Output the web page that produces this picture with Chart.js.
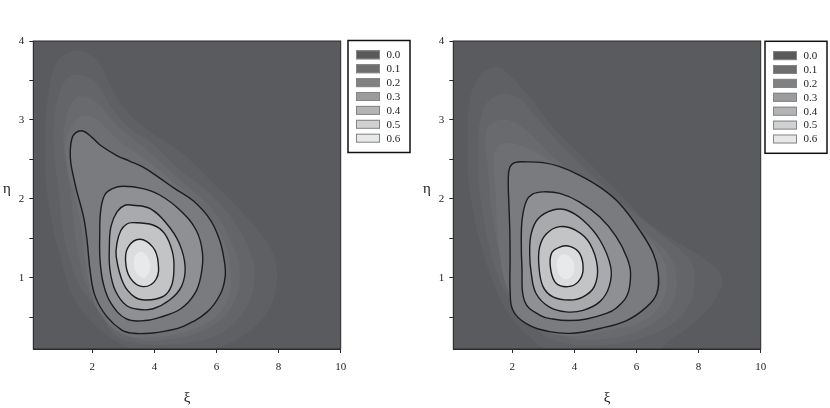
<!DOCTYPE html>
<html lang="en">
<head>
<meta charset="UTF-8">
<title>Density contours</title>
<style>
    html, body { margin: 0; padding: 0; background: #fff; }
    body { width: 830px; height: 408px; position: relative; overflow: hidden; }
    canvas { position: absolute; top: 0; }
    #left { left: 0; }
    #right { left: 420px; }
</style>
</head>
<body>
<canvas id="left" width="420" height="408"></canvas>
<canvas id="right" width="410" height="408"></canvas>
<script src="https://cdn.jsdelivr.net/npm/chart.js"></script>
<script>
// axes
const xTicks = [2, 4, 6, 8, 10];
const yTicks = [0.5, 1, 1.5, 2, 2.5, 3, 3.5, 4];
const yLabelled = [1, 2, 3, 4];
const legendLevels = ['0.0', '0.1', '0.2', '0.3', '0.4', '0.5', '0.6'];

// left panel: faint shading bands outside the 0.1 line (outermost first)
const leftBand1 = [[3.12,3.10],[3.87,2.85],[4.82,2.60],[5.89,2.20],[6.97,1.77],[7.72,1.39],[7.94,1.10],[7.88,0.80],[7.61,0.55],[6.97,0.30],[6.11,0.13],[5.0,0.06],[3.33,0.10],[2.58,0.25],[1.83,0.51],[1.29,0.84],[0.97,1.27],[0.70,1.69],[0.54,2.11],[0.48,2.72],[0.59,3.35],[0.86,3.73],[1.29,3.86],[1.72,3.86],[2.20,3.73],[2.58,3.44],[3.12,3.10]];
const leftBand2 = [[3.12,2.93],[3.87,2.72],[4.82,2.37],[5.89,2.03],[6.75,1.60],[7.18,1.22],[7.24,1.01],[7.07,0.72],[6.65,0.46],[5.89,0.25],[4.6,0.16],[3.5,0.17],[2.7,0.28],[2.26,0.55],[1.61,0.89],[1.24,1.27],[1.02,1.69],[0.91,2.11],[0.75,2.72],[0.86,3.23],[1.18,3.52],[1.61,3.57],[2.15,3.46],[2.58,3.18],[3.12,2.93]];
const leftBand3 = [[3.33,2.76],[4.05,2.52],[4.82,2.24],[5.89,1.86],[6.54,1.39],[6.75,1.06],[6.59,0.72],[6.11,0.46],[5.35,0.30],[4.4,0.22],[3.5,0.22],[2.47,0.45],[1.83,0.89],[1.56,1.27],[1.40,1.69],[1.29,2.11],[1.07,2.72],[1.18,3.06],[1.45,3.27],[1.83,3.29],[2.26,3.18],[2.69,2.97],[3.33,2.76]];
const leftBand4 = [[2.90,2.72],[3.6,2.53],[4.6,2.22],[5.5,1.90],[6.2,1.50],[6.45,1.10],[6.38,0.76],[5.95,0.50],[5.0,0.32],[3.9,0.25],[3.0,0.28],[2.3,0.52],[1.92,0.88],[1.74,1.30],[1.62,1.70],[1.40,2.07],[1.18,2.42],[1.14,2.72],[1.34,2.92],[1.61,3.04],[1.99,3.04],[2.42,2.91],[2.90,2.72]];
// left panel: contour lines 0.1 .. 0.5
const leftC1 = [[3.65,2.40],[4.15,2.27],[4.62,2.14],[5.27,1.97],[5.81,1.73],[6.10,1.48],[6.25,1.22],[6.28,1.02],[6.13,0.80],[5.70,0.57],[4.95,0.39],[4.39,0.33],[3.87,0.30],[3.31,0.30],[2.95,0.34],[2.47,0.51],[2.10,0.76],[1.94,1.06],[1.83,1.48],[1.72,1.77],[1.50,2.10],[1.40,2.27],[1.31,2.45],[1.29,2.60],[1.34,2.76],[1.47,2.84],[1.70,2.86],[1.99,2.78],[2.26,2.68],[2.79,2.55],[3.20,2.48],[3.65,2.40]];
const leftC2 = [[3.63,2.13],[4.17,2.05],[4.82,1.86],[5.35,1.60],[5.55,1.31],[5.50,1.03],[5.30,0.80],[4.85,0.61],[4.17,0.50],[3.70,0.46],[3.10,0.48],[2.60,0.68],[2.36,0.92],[2.25,1.22],[2.24,1.55],[2.27,1.85],[2.40,2.05],[2.65,2.13],[2.99,2.16],[3.63,2.13]];
const leftC3 = [[3.31,1.92],[3.85,1.88],[4.39,1.69],[4.80,1.44],[4.99,1.14],[4.87,0.89],[4.49,0.72],[3.96,0.61],[3.53,0.60],[3.10,0.65],[2.74,0.84],[2.57,1.10],[2.55,1.39],[2.60,1.65],[2.80,1.84],[3.05,1.92],[3.31,1.92]];
const leftC4 = [[3.31,1.70],[3.95,1.67],[4.33,1.56],[4.58,1.33],[4.63,1.12],[4.55,0.90],[4.30,0.77],[3.74,0.72],[3.36,0.76],[3.00,0.93],[2.77,1.27],[2.80,1.45],[2.92,1.60],[3.10,1.68],[3.31,1.70]];
const leftC5 = [[3.53,1.49],[3.95,1.39],[4.12,1.20],[4.05,0.98],[3.63,0.89],[3.22,1.00],[3.07,1.22],[3.17,1.40],[3.53,1.49]];
const leftCore = [[3.55,1.33],[3.80,1.25],[3.85,1.10],[3.65,1.00],[3.40,1.08],[3.35,1.25],[3.55,1.33]];

// right panel
const rightBand1 = [[3.31,2.91],[4.39,2.49],[5.46,2.07],[6.54,1.65],[8.26,1.22],[8.74,1.01],[8.58,0.76],[7.94,0.46],[7.08,0.21],[6.54,0.06],[3.31,0.06],[2.56,0.25],[1.81,0.59],[1.27,1.06],[0.84,1.65],[0.62,2.15],[0.57,2.58],[0.62,3.21],[0.95,3.55],[1.48,3.67],[1.91,3.57],[2.56,3.29],[3.31,2.91]];
const rightBand2 = [[3.53,2.70],[4.60,2.28],[5.68,1.90],[6.75,1.56],[7.72,1.22],[7.88,0.93],[7.51,0.55],[6.54,0.29],[4.92,0.15],[3.53,0.19],[2.67,0.38],[1.91,0.72],[1.38,1.22],[1.00,1.94],[0.89,2.58],[1.08,3.15],[1.59,3.32],[2.24,3.27],[2.67,3.08],[3.53,2.70]];
const rightBand3 = [[3.20,2.58],[4.17,2.24],[5.25,1.90],[6.32,1.56],[7.08,1.27],[7.29,0.97],[7.08,0.63],[6.32,0.38],[5.03,0.23],[3.74,0.25],[2.88,0.46],[2.13,0.76],[1.65,1.22],[1.32,1.90],[1.22,2.37],[1.16,2.87],[1.59,3.00],[2.02,2.98],[2.45,2.87],[3.20,2.58]];
const rightBand4 = [[3.10,2.51],[4.17,2.20],[5.25,1.86],[6.22,1.56],[6.81,1.27],[6.99,0.99],[6.86,0.72],[6.32,0.48],[5.03,0.33],[3.53,0.27],[2.56,0.46],[1.91,0.80],[1.59,1.31],[1.46,2.07],[1.43,2.58],[1.65,2.70],[2.24,2.68],[3.10,2.51]];
const rightC1 = [[2.99,2.46],[3.53,2.41],[4.17,2.30],[4.82,2.15],[5.46,1.94],[6.11,1.60],[6.54,1.31],[6.70,1.06],[6.65,0.80],[6.32,0.63],[5.68,0.46],[4.82,0.36],[3.95,0.30],[3.20,0.32],[2.45,0.42],[2.02,0.59],[1.93,0.84],[1.93,1.25],[1.92,1.60],[1.89,1.94],[1.87,2.24],[1.92,2.40],[2.08,2.46],[2.45,2.47],[2.99,2.46]];
const rightC2 = [[2.99,2.09],[3.53,2.07],[4.17,1.96],[4.82,1.77],[5.35,1.52],[5.70,1.25],[5.81,1.05],[5.70,0.78],[5.35,0.62],[5.03,0.55],[4.39,0.48],[3.85,0.46],[3.30,0.48],[2.88,0.53],[2.40,0.70],[2.31,1.14],[2.29,1.48],[2.32,1.75],[2.45,1.97],[2.65,2.06],[2.99,2.09]];
const rightC3 = [[3.31,1.86],[3.74,1.86],[4.28,1.73],[4.82,1.48],[5.17,1.14],[5.12,0.89],[4.82,0.70],[4.28,0.59],[3.74,0.57],[3.20,0.63],[2.77,0.80],[2.61,1.06],[2.56,1.31],[2.61,1.56],[2.83,1.75],[3.31,1.86]];
const rightC4 = [[3.53,1.65],[4.06,1.60],[4.49,1.44],[4.74,1.14],[4.64,0.89],[4.28,0.76],[3.85,0.72],[3.31,0.76],[2.99,0.89],[2.86,1.14],[2.88,1.39],[3.10,1.56],[3.53,1.65]];
const rightC5 = [[3.53,1.39],[3.85,1.40],[4.17,1.31],[4.28,1.10],[4.12,0.95],[3.80,0.89],[3.42,0.93],[3.24,1.10],[3.26,1.31],[3.53,1.39]];
const rightCore = [[3.65,1.30],[3.95,1.22],[3.98,1.07],[3.75,0.98],[3.50,1.05],[3.45,1.22],[3.65,1.30]];

// greys
const bgColor = '#5a5b5e';
const bandColors = ['#5f6063', '#646568', '#696a6d', '#6e6f72'];
const levelColors = ['#7a7b7e', '#8f9093', '#a9aaad', '#c3c4c6', '#dcdddf'];
const coreColor = '#e8e9ea';
const legendColors = ['#58595b', '#6c6d6f', '#808183', '#9b9c9e', '#b3b4b6', '#d0d1d3', '#e7e8e9'];
const serif = '"Liberation Serif", "Times New Roman", serif';

function shape(points, color, line) {
    // the arrays repeat the first point at the end; the line is closed as a loop instead
    return {
        data: points.slice(0, -1).map(p => ({ x: p[0], y: p[1] })),
        backgroundColor: color,
        borderColor: line ? '#1c1c1c' : color,
        borderWidth: line ? 1.4 : 0,
        fill: 'shape',
        pointRadius: 0,
        tension: 0.4
    };
}

// make each line a closed smooth loop (as the radar chart does)
const closeLoops = {
    id: 'closeLoops',
    afterDatasetsUpdate(chart) {
        chart.getSortedVisibleDatasetMetas().forEach(meta => {
            const line = meta.dataset;
            if (!line) return;
            line._loop = true;
            line._fullLoop = true;
            line._pointsUpdated = false;
            delete line._segments;
            delete line._path;
        });
    }
};

function makeChart(id, bands, lines, core, boxX, boxY) {
    // first dataset is drawn on top, so go from the centre outwards
    const datasets = [shape(core, coreColor, false)];
    for (let i = lines.length - 1; i >= 0; i--) datasets.push(shape(lines[i], levelColors[i], true));
    for (let i = bands.length - 1; i >= 0; i--) datasets.push(shape(bands[i], bandColors[i], false));

    const frame = {
        id: 'frame',
        beforeDatasetsDraw(chart) {
            const a = chart.chartArea, ctx = chart.ctx;
            ctx.save();
            ctx.fillStyle = bgColor;
            ctx.fillRect(a.left, a.top, a.right - a.left, a.bottom - a.top);
            ctx.restore();
        },
        afterDraw(chart) {
            const a = chart.chartArea, ctx = chart.ctx;
            ctx.save();
            ctx.strokeStyle = '#2a2a2a';
            ctx.lineWidth = 1;
            ctx.strokeRect(a.left, a.top, a.right - a.left, a.bottom - a.top);

            // axis titles, upright
            ctx.fillStyle = '#222';
            ctx.font = '15px ' + serif;
            ctx.textAlign = 'center';
            ctx.textBaseline = 'middle';
            ctx.fillText('ξ', (a.left + a.right) / 2, a.bottom + 49);
            ctx.fillText('η', 7, 189);

            // legend box
            ctx.lineWidth = 1.5;
            ctx.strokeStyle = '#111';
            ctx.strokeRect(boxX, boxY, 62, 112);
            ctx.font = '11px ' + serif;
            ctx.textAlign = 'left';
            legendLevels.forEach((lab, i) => {
                const cy = boxY + 14.3 + i * 13.9;
                ctx.fillStyle = legendColors[i];
                ctx.fillRect(boxX + 8, cy - 4.5, 24, 9);
                ctx.strokeStyle = '#858585';
                ctx.lineWidth = 1;
                ctx.strokeRect(boxX + 8.5, cy - 4, 23, 8);
                ctx.fillStyle = '#222';
                ctx.fillText(lab, boxX + 38.5, cy + 0.5);
            });
            ctx.restore();
        }
    };

    const canvas = document.getElementById(id);
    return new Chart(canvas.getContext('2d'), {
        type: 'line',
        data: { datasets: datasets },
        options: {
            responsive: false,
            animation: false,
            layout: { padding: { left: 0, top: 41, right: canvas.width - 340.7, bottom: 31 } },
            plugins: { legend: { display: false }, tooltip: { enabled: false } },
            scales: {
                x: {
                    type: 'linear', min: 0.1, max: 10,
                    afterBuildTicks: axis => { axis.ticks = xTicks.map(v => ({ value: v })); },
                    afterFit: scale => { scale.height = 28; },
                    ticks: { padding: 8, color: '#222', font: { family: serif, size: 11 } },
                    grid: { drawOnChartArea: false, tickLength: 4, color: '#2a2a2a' },
                    border: { color: '#2a2a2a' }
                },
                y: {
                    type: 'linear', min: 0.1, max: 4,
                    afterBuildTicks: axis => { axis.ticks = yTicks.map(v => ({ value: v })); },
                    afterFit: scale => { scale.width = 33.3; },
                    ticks: {
                        padding: 5, color: '#222', font: { family: serif, size: 11 },
                        callback: v => yLabelled.includes(v) ? String(v) : ''
                    },
                    grid: { drawOnChartArea: false, tickLength: 4, color: '#2a2a2a' },
                    border: { color: '#2a2a2a' }
                }
            }
        },
        plugins: [closeLoops, frame]
    });
}

makeChart('left', [leftBand1, leftBand2, leftBand3, leftBand4], [leftC1, leftC2, leftC3, leftC4, leftC5], leftCore, 348, 40.5);
makeChart('right', [rightBand1, rightBand2, rightBand3, rightBand4], [rightC1, rightC2, rightC3, rightC4, rightC5], rightCore, 345, 41.3);
</script>
</body>
</html>
